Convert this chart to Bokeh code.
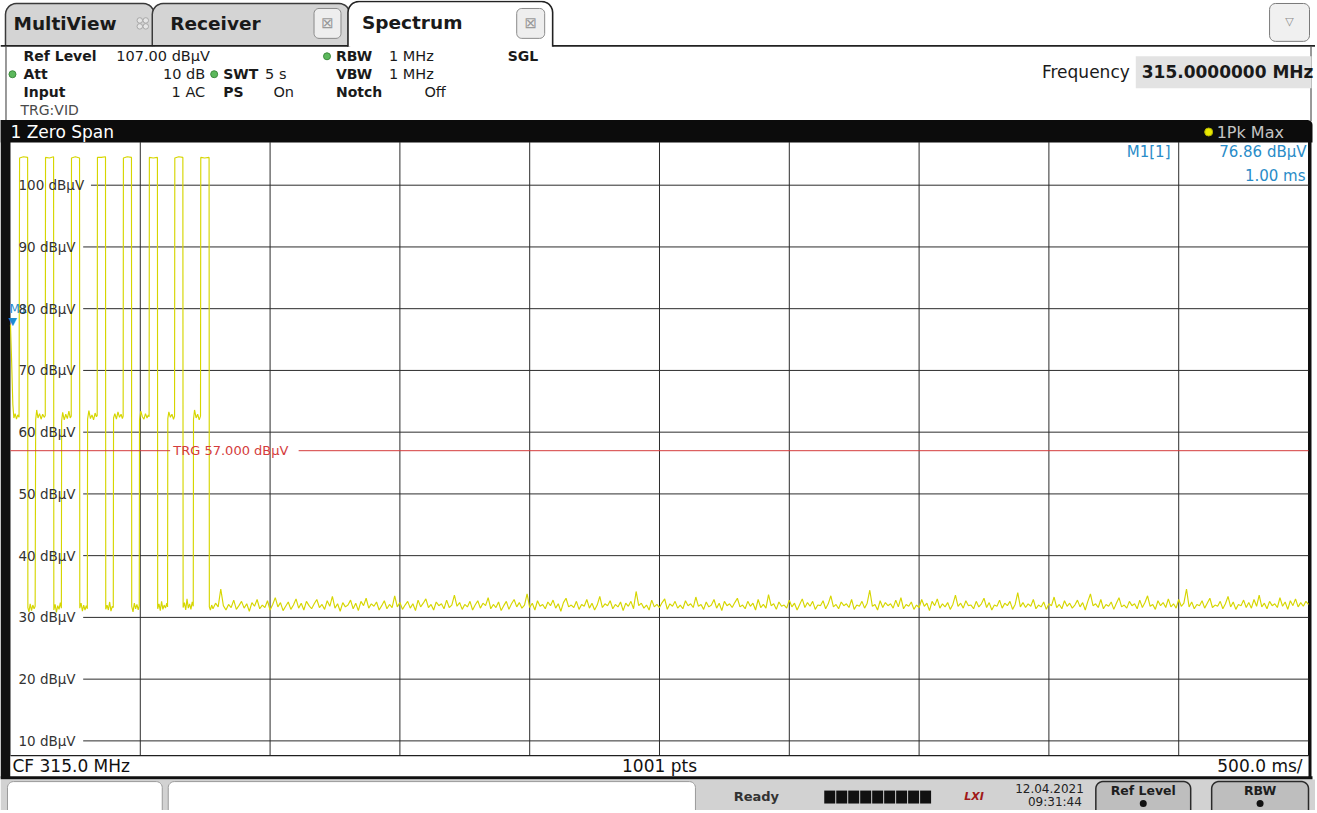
import math
from bokeh.plotting import figure
from bokeh.models import Range1d
from bokeh.core.properties import value
from bokeh.embed import file_html
from bokeh.resources import INLINE

# ---------------- data ----------------
sweep_time_ms = 5000            # 10 div x 500 ms/div
ref_level = 107.0               # dBµV at top of screen
bottom_level = 7.6              # dBµV at bottom edge of screen
time_div_ms = [500, 1000, 1500, 2000, 2500, 3000, 3500, 4000, 4500]
level_ticks = [100, 90, 80, 70, 60, 50, 40, 30, 20, 10]
level_tick_labels = ["100 dBµV", "90 dBµV", "80 dBµV", "70 dBµV", "60 dBµV",
                     "50 dBµV", "40 dBµV", "30 dBµV", "20 dBµV", "10 dBµV"]
trigger_level = 57.0
trigger_label = "TRG  57.000 dBµV"
marker_time_ms = 1.0
marker_level = 76.86

# burst part of the trace (time ms, level dBµV)
burst_t = [0, 4, 9, 13, 18, 23, 28, 33,
           35, 50, 66, 67, 71, 76, 81, 86, 91, 95, 97, 101, 106, 112, 118, 124, 130, 134,
           135, 150, 166, 167, 172, 177, 182, 187, 192, 196, 197, 201, 207, 213, 219, 225, 230, 234,
           235, 250, 266, 267, 272, 277, 282, 287, 292, 296, 297, 302, 308, 314, 320, 326, 331, 334,
           335, 350, 366, 367, 372, 377, 382, 387, 392, 396, 397, 402, 408, 414, 420, 426, 431, 434,
           435, 450, 466, 467, 472, 477, 482, 487, 492, 496, 497, 502, 508, 514, 520, 526, 531, 534,
           535, 550, 566, 567, 572, 577, 582, 587, 592, 597, 602, 605, 606, 610, 616, 622, 628, 632,
           633, 648, 664, 665, 670, 675, 680, 685, 690, 695, 700, 704, 705, 709, 715, 721, 727, 732,
           733, 748, 765, 766, 770, 775]
burst_db = [77.4, 72.0, 64.5, 62.3, 63.0, 62.1, 62.8, 62.4,
            104.4, 104.6, 104.5, 31.6, 30.9, 32.2, 31.1, 32.0, 31.4, 31.8, 62.0, 63.6, 62.3, 63.0, 62.1, 62.9, 62.4, 62.7,
            104.5, 104.4, 104.6, 31.2, 32.1, 30.8, 31.9, 31.3, 32.4, 31.5, 61.8, 63.2, 62.0, 62.9, 62.2, 63.4, 62.3, 62.6,
            104.4, 104.6, 104.4, 31.5, 32.3, 31.0, 32.0, 31.2, 31.9, 31.4, 62.1, 63.5, 62.2, 62.8, 62.0, 63.1, 62.5, 62.7,
            104.5, 104.5, 104.6, 31.3, 32.0, 31.2, 32.5, 31.0, 31.8, 31.6, 62.3, 63.0, 62.1, 63.3, 62.4, 62.9, 62.2, 62.6,
            104.4, 104.6, 104.5, 31.8, 30.9, 32.3, 31.4, 32.1, 31.2, 31.9, 62.0, 63.4, 62.5, 62.1, 63.0, 62.3, 62.8, 62.5,
            104.5, 104.4, 104.5, 31.4, 32.2, 31.1, 32.6, 31.3, 32.0, 31.5, 32.3, 31.7, 62.2, 63.3, 62.4, 62.9, 62.1, 62.6,
            104.4, 104.6, 104.5, 31.6, 32.4, 31.2, 33.0, 31.5, 32.2, 31.3, 32.5, 31.8, 62.1, 63.6, 62.3, 62.9, 62.0, 62.6,
            104.5, 104.4, 104.5, 31.7, 31.2, 32.0]

# noise floor after the burst, on every 2nd point of the 1001-point sweep grid
noise_start_ms = 780
noise_step_ms = 10
noise_db = [
    31.4, 32.3, 31.7, 34.6, 31.9, 31.2, 32.1, 31.6, 32.8, 31.3, 31.9, 32.6, 31.5, 32.2, 31.0, 32.4, 31.8, 32.9, 31.4, 32.0,
    31.6, 32.7, 31.2, 32.1, 33.2, 31.7, 32.4, 31.1, 31.8, 32.5, 31.3, 32.0, 33.0, 31.5, 32.3, 31.2, 32.6, 31.9, 31.4, 32.2,
    32.9, 31.6, 32.1, 31.3, 32.7, 31.8, 33.4, 31.5, 32.2, 31.0, 32.4, 31.7, 32.0, 32.8, 31.4, 32.3, 31.1, 32.6, 31.9, 33.1,
    31.5, 32.2, 31.8, 32.5, 31.2, 31.9, 32.7, 31.4, 32.1, 31.6, 33.5, 31.7, 32.4, 31.3, 32.0, 32.6, 31.5, 32.2, 31.1, 32.8,
    31.7, 32.3, 33.0, 31.6, 32.1, 31.2, 32.5, 31.9, 32.2, 31.4, 32.8, 31.6, 32.0, 33.6, 31.8, 32.4, 31.3, 32.1, 31.7, 32.6,
    31.2, 32.0, 32.7, 31.5, 32.3, 31.9, 33.2, 31.4, 32.1, 31.6, 32.5, 31.1, 31.9, 32.6, 31.3, 32.2, 32.9, 31.7, 32.4, 31.5,
    32.0, 33.8, 31.6, 32.3, 31.2, 32.7, 31.8, 32.1, 31.4, 32.5, 31.9, 32.8, 31.5, 32.2, 31.0, 32.4, 33.1, 31.7, 32.0, 31.6,
    32.6, 31.3, 32.1, 31.8, 32.9, 31.5, 32.3, 31.2, 32.0, 33.4, 31.6, 32.2, 31.9, 32.7, 31.4, 32.1, 31.7, 32.5, 31.1, 32.3,
    31.8, 32.6, 31.4, 34.2, 31.9, 32.3, 31.5, 32.0, 31.2, 32.8, 31.7, 32.1, 31.6, 32.4, 33.0, 31.3, 32.2, 31.8, 32.6, 31.5,
    32.0, 31.4, 32.7, 31.9, 32.2, 31.6, 33.3, 31.8, 32.1, 31.3, 32.5, 31.7, 32.0, 32.9, 31.5, 32.3, 31.1, 32.6, 31.9, 32.2,
    31.6, 32.4, 33.1, 31.7, 32.0, 31.4, 32.6, 31.8, 32.3, 31.2, 32.9, 31.6, 32.1, 31.5, 33.7, 31.9, 32.2, 31.3, 32.5, 31.8,
    32.0, 31.5, 32.8, 31.7, 32.3, 31.2, 32.1, 33.0, 31.6, 32.4, 31.8, 32.6, 31.3, 32.0, 31.9, 32.7, 31.4, 32.2, 33.5, 31.7,
    32.1, 31.4, 32.5, 31.9, 32.2, 31.6, 32.9, 31.3, 32.0, 31.8, 32.6, 31.5, 32.3, 34.4, 31.8, 32.1, 31.2, 32.7, 31.6, 32.4,
    31.9, 32.2, 31.5, 32.8, 31.7, 33.2, 31.4, 32.1, 31.8, 32.5, 31.3, 32.0, 31.6, 32.9, 31.8, 32.3, 31.1, 32.6, 31.9, 33.0,
    31.5, 32.2, 31.7, 32.4, 31.3, 32.1, 33.6, 31.8, 32.3, 31.5, 32.7, 31.9, 32.0, 31.4, 32.6, 31.7, 32.2, 33.1, 31.6, 32.4,
    31.2, 32.0, 31.8, 32.8, 31.5, 32.3, 31.9, 32.6, 31.3, 32.1, 34.0, 31.7, 32.4, 31.6, 32.2, 31.8, 32.9, 31.4, 32.0, 31.7,
    32.5, 31.3, 32.2, 31.9, 33.3, 31.6, 32.1, 31.4, 32.7, 31.8, 32.3, 31.5, 32.0, 32.8, 31.7, 32.4, 31.2, 32.6, 33.8, 31.9,
    32.2, 31.6, 32.9, 31.4, 32.1, 31.8, 32.5, 31.3, 32.3, 33.2, 31.7, 32.0, 31.5, 32.6, 31.9, 32.2, 31.4, 32.8, 31.6, 32.4,
    33.5, 31.8, 32.1, 31.3, 32.7, 31.9, 32.4, 31.6, 33.0, 31.7, 32.2, 31.5, 32.9, 31.8, 32.3, 34.6, 31.7, 32.5, 31.4, 32.1,
    31.9, 32.7, 31.5, 32.3, 33.1, 31.6, 32.0, 31.8, 32.6, 31.4, 32.2, 33.4, 31.7, 32.5, 31.3, 32.1, 31.9, 32.8, 31.6, 32.4,
    31.5, 32.9, 31.8, 33.6, 31.7, 32.3, 31.4, 32.6, 31.9, 32.2, 31.6, 33.2, 31.8, 32.5, 31.3, 32.7, 31.9, 33.0, 31.7, 32.4,
    31.8, 32.6, 32.1]

trace_t = burst_t + [noise_start_ms + i * noise_step_ms for i in range(len(noise_db))]
trace_db = burst_db + noise_db

# ---------------- screen geometry (reference pixels) ----------------
F = value("DejaVu Sans")
SCR_W, SCR_H = 1317, 813
FRAME_L, FRAME_R, FRAME_T, FRAME_B = 10, 1310, 142, 758
MS_PER_PX = sweep_time_ms / (FRAME_R - FRAME_L)
DB_PER_PX = (ref_level - bottom_level) / (FRAME_B - FRAME_T)


def X(px):
    return (px - FRAME_L) * MS_PER_PX


def Y(py):
    return ref_level - (py - FRAME_T) * DB_PER_PX


p = figure(width=1315, height=810,
           x_range=Range1d(X(0), X(SCR_W)), y_range=Range1d(Y(SCR_H), Y(0)),
           min_border=0, x_axis_location=None, y_axis_location=None,
           toolbar_location=None, output_backend="svg",
           background_fill_color="white", border_fill_color="white")
p.xgrid.visible = False
p.ygrid.visible = False
p.outline_line_color = None


def put(x, y, s, size, color="#1a1a1a", style="normal", align="left",
        baseline="middle", xo=0, yo=0, data=False):
    xx, yy = (x, y) if data else (X(x), Y(y))
    p.text(x=[xx], y=[yy], text=[s], text_font=F, text_font_size=f"{size}px",
           text_color=color, text_font_style=style, text_align=align,
           text_baseline=baseline, x_offset=xo, y_offset=yo)


def rrect(x0, y0, x1, y1, r, tl=True, tr=True, br=True, bl=True, n=6):
    pts = []

    def arc(cx, cy, a0, a1):
        for k in range(n + 1):
            a = math.radians(a0 + (a1 - a0) * k / n)
            pts.append((cx + r * math.cos(a), cy + r * math.sin(a)))
    if bl:
        arc(x0 + r, y1 - r, 90, 180)
    else:
        pts.append((x0, y1))
    if tl:
        arc(x0 + r, y0 + r, 180, 270)
    else:
        pts.append((x0, y0))
    if tr:
        arc(x1 - r, y0 + r, 270, 360)
    else:
        pts.append((x1, y0))
    if br:
        arc(x1 - r, y1 - r, 0, 90)
    else:
        pts.append((x1, y1))
    return [X(a) for a, _ in pts], [Y(b) for _, b in pts]


def box(x0, y0, x1, y1, r, fill, line, lw=1.0, closed=True, **kw):
    xs, ys = rrect(x0, y0, x1, y1, r, **kw)
    p.patch(xs, ys, fill_color=fill, line_color=None)
    if line:
        if closed:
            xs, ys = xs + [xs[0]], ys + [ys[0]]
        p.line(xs, ys, line_color=line, line_width=lw)


def qd(l, t, r, b, fill):
    p.quad(left=[X(l)], right=[X(r)], top=[Y(t)], bottom=[Y(b)], fill_color=fill, line_color=None)


def dots(xs, ys, size, fill, line=None):
    p.scatter(x=[X(a) for a in xs], y=[Y(b) for b in ys], size=size, fill_color=fill, line_color=line)


# ---------------- header: tabs ----------------
box(5, 3, 154, 46, 11, "#d4d4d4", "#3a3a3a", 1.5, closed=False, bl=False, br=False)
box(152, 3, 350, 46, 11, "#d4d4d4", "#3a3a3a", 1.5, closed=False, bl=False, br=False)
p.segment(x0=[X(0), X(553)], y0=[Y(45.5)] * 2, x1=[X(350), X(SCR_W)], y1=[Y(45.5)] * 2,
          line_color="#222222", line_width=1.6)
box(348, 1, 553, 46.5, 11, "white", "#222222", 1.6, closed=False, bl=False, br=False)
dots([139.5, 145.5, 139.5, 145.5], [20, 20, 26, 26], 5.5, "#e6e6e6", "#a8a8a8")
put(13, 23, "MultiView", 18.5, style="bold")
put(170, 23, "Receiver", 18.5, style="bold")
put(362, 22, "Spectrum", 18.5, style="bold")
for cx0, cx1 in [(314, 341), (517, 545)]:
    box(cx0, 8, cx1, 38, 5, "#eeeeee", "#8a8a8a", 1.0)
    put((cx0 + cx1) / 2, 23, "⊠", 15, color="#9a9a9a", align="center")
box(1271, 3, 1311, 41, 6, "#f0f0f0", "#7a7a7a", 1.0)
put(1291, 21, "▽", 11, color="#8a8a8a", align="center")

# ---------------- header: settings ----------------
p.segment(x0=[X(5.5), X(1312.5)], y0=[Y(46)] * 2, x1=[X(5.5), X(1312.5)], y1=[Y(121)] * 2,
          line_color="#555555", line_width=1.2)
R1, R2, R3, R4 = 56, 74, 92, 110
settings = [
    (R1, "Ref Level", 23, "left", "bold"), (R1, "107.00 dBµV", 116, "left", "normal"),
    (R1, "RBW", 336, "left", "bold"), (R1, "1 MHz", 389, "left", "normal"),
    (R1, "SGL", 508, "left", "bold"),
    (R2, "Att", 23, "left", "bold"), (R2, "10 dB", 205, "right", "normal"),
    (R2, "SWT", 223, "left", "bold"), (R2, "5 s", 265, "left", "normal"),
    (R2, "VBW", 336, "left", "bold"), (R2, "1 MHz", 389, "left", "normal"),
    (R3, "Input", 23, "left", "bold"), (R3, "1 AC", 205, "right", "normal"),
    (R3, "PS", 223, "left", "bold"), (R3, "On", 294, "right", "normal"),
    (R3, "Notch", 336, "left", "bold"), (R3, "Off", 446, "right", "normal"),
]
for yy, s, xx, al, st in settings:
    put(xx, yy, s, 14 if st == "bold" else 14.5, style=st, align=al)
put(20, R4, "TRG:VID", 14, color="#4a4a4a")
dots([327, 12, 214], [R1, R2, R2], 7, "#5cb85c", "#3d8b3d")

qd(1137, 56, 1313, 88, "#e3e3e3")
put(1131, 72, "Frequency", 17, align="right")
put(1143, 72, "315.0000000 MHz", 17, style="bold")

# title bar
box(0, 120, 1314, 142.5, 5, "#0c0c0c", None, tl=False, bl=False, br=False)
put(10, 132, "1 Zero Span", 17, color="white")
dots([1210], [132], 8, "#e8e800", "#b0b000")
put(1218, 132, "1Pk Max", 16, color="#c4c4c4")

# ---------------- trace window ----------------
qd(0, 120, FRAME_L, 781, "#101010")            # left black bezel
qd(FRAME_R - 0.5, 142, 1313, 780, "#101010")   # right edge
GRID = "#2c2c2c"
p.segment(x0=time_div_ms, y0=[bottom_level] * len(time_div_ms),
          x1=time_div_ms, y1=[ref_level] * len(time_div_ms),
          line_color=GRID, line_width=1)
hx0 = [310 if len(s) > 7 else 280 for s in level_tick_labels]
p.segment(x0=hx0, y0=level_ticks, x1=[sweep_time_ms] * len(level_ticks), y1=level_ticks,
          line_color=GRID, line_width=1)

p.line(trace_t, trace_db, line_color="#d6d600", line_width=1.15)

p.segment(x0=[0, 1110], y0=[trigger_level] * 2, x1=[615, sweep_time_ms], y1=[trigger_level] * 2,
          line_color="#d43c3c", line_width=1)
put(627, trigger_level, trigger_label, 13, color="#d43c3c", data=True)

put(0, 80, "M1", 12, color="#1f8ad0", xo=-1, data=True)
p.text(x=[0] * len(level_ticks), y=level_ticks, text=level_tick_labels, x_offset=8,
       text_font=F, text_font_size="13.5px", text_color="#333333",
       text_baseline="middle", text_align="left")
p.text(x=[marker_time_ms], y=[marker_level], text=["▼"], x_offset=2,
       text_font=F, text_font_size="11px", text_color="#1f8ad0",
       text_align="center", text_baseline="bottom")

put(1128, 152, "M1[1]", 15, color="#2a8cc8")
put(sweep_time_ms, Y(152), f"{marker_level:.2f} dBµV", 15, color="#2a8cc8", align="right", xo=-2, data=True)
put(sweep_time_ms, Y(176), f"{marker_time_ms:.2f} ms", 15, color="#2a8cc8", align="right", xo=-3, data=True)

# ---------------- footer ----------------
qd(FRAME_L, FRAME_B, FRAME_R, 779, "white")
p.segment(x0=[X(FRAME_L)], y0=[Y(FRAME_B)], x1=[X(FRAME_R)], y1=[Y(FRAME_B)],
          line_color="#202020", line_width=1.2)
qd(0, 778.5, 1314, 782, "#101010")
qd(0, 782, SCR_W, SCR_H, "#d2d2d2")
put(12, 768.5, "CF 315.0 MHz", 17, color="#111111")
put(660, 768.5, "1001 pts", 17, color="#111111", align="center")
put(1304, 768.5, "500.0 ms/", 17, color="#111111", align="right")

box(7, 784, 162, 820, 6, "white", "#9a9a9a", 1.0)
box(168, 784, 696, 820, 6, "white", "#9a9a9a", 1.0)
put(757, 799, "Ready", 13, color="#333333", style="bold", align="center")
p.quad(left=[X(825 + 12 * i) for i in range(9)], right=[X(836 + 12 * i) for i in range(9)],
       top=[Y(793)] * 9, bottom=[Y(806)] * 9, fill_color="#111111", line_color=None)
put(975, 799, "LXI", 11, color="#a01818", style="bold italic", align="center")
put(1085, 791, "12.04.2021", 12, color="#222222", align="right")
put(1083, 804, "09:31:44", 12, color="#222222", align="right")
for bx0, bx1, lab in [(1097, 1192, "Ref Level"), (1213, 1310, "RBW")]:
    box(bx0, 784, bx1, 820, 7, "#bebebe", "#2a2a2a", 1.5)
    put((bx0 + bx1) / 2, 793, lab, 12.5, color="#1e1e1e", style="bold", align="center")
    dots([(bx0 + bx1) / 2], [806], 7, "#111111")

open("out.html", "w").write(file_html(p, INLINE))
